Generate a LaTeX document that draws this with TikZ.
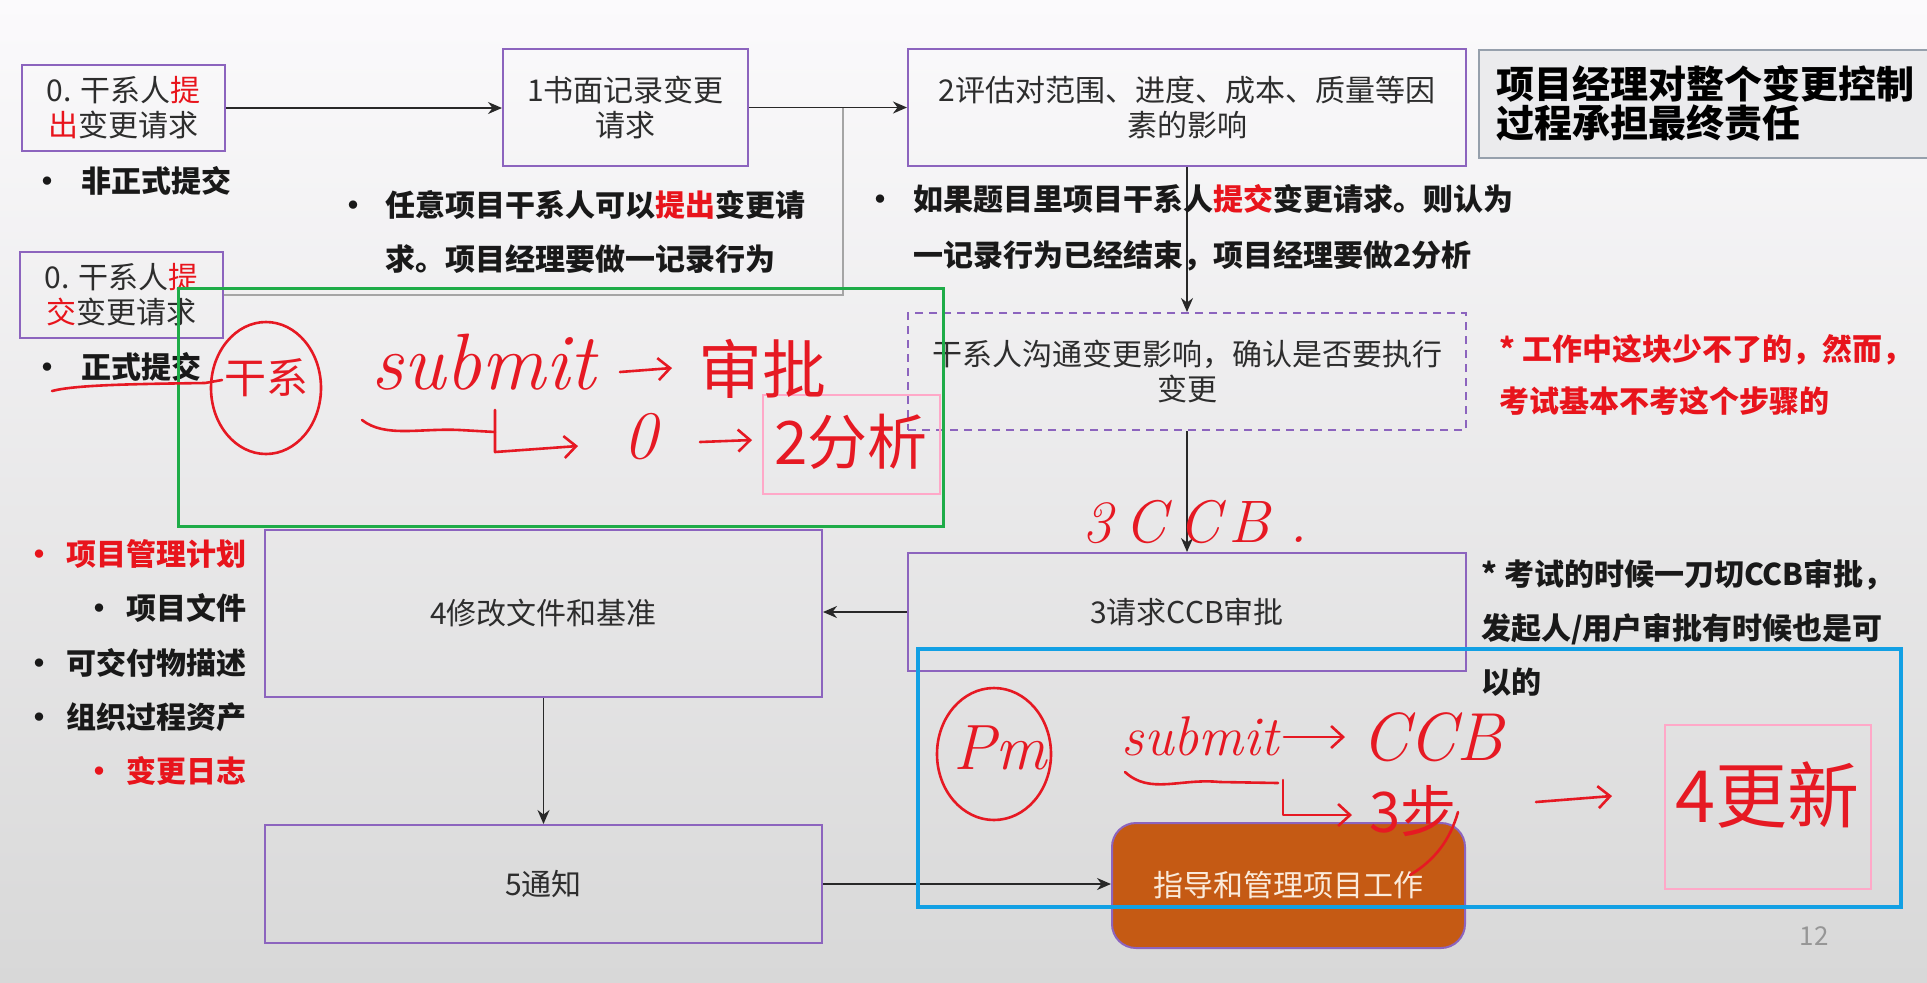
\documentclass[tikz,border=0pt]{standalone}
\usepackage{fontspec}
\usepackage{graphicx}
\newfontfamily\cjk{Noto Sans CJK SC}
\usetikzlibrary{arrows.meta}

\definecolor{bgtop}{RGB}{251,250,252}
\definecolor{bgbot}{RGB}{216,216,216}
\definecolor{boxpurple}{RGB}{140,100,190}
\definecolor{boxtext}{RGB}{45,45,45}
\definecolor{hlred}{RGB}{232,20,28}
\definecolor{linegray}{RGB}{40,40,40}
\definecolor{jointgray}{RGB}{165,165,165}
\definecolor{orangefill}{RGB}{197,90,20}
\definecolor{orangetext}{RGB}{250,235,220}
\definecolor{titlefill}{RGB}{235,235,237}
\definecolor{titleborder}{RGB}{150,160,172}
\definecolor{greenbox}{RGB}{30,172,72}
\definecolor{bluebox}{RGB}{18,160,228}
\definecolor{pinkbox}{RGB}{255,168,200}
\definecolor{handred}{RGB}{230,25,35}
\definecolor{numgray}{RGB}{150,150,150}

% bullet set in a box of the given width; the dot sits 7.5pt from its left edge
\newcommand{\bul}[1]{\makebox[#1][l]{•}}

\begin{document}
\begin{tikzpicture}[x=0.5pt,y=-0.5pt,
  flowbox/.style={draw=boxpurple, line width=1pt, rectangle, inner sep=0pt,
    align=center, text=boxtext, font=\cjk\fontsize{15}{17.5}\selectfont},
  flowarr/.style={draw=linegray, line width=0.8pt, -{Stealth[length=7pt,width=6pt]}},
  notetxt/.style={inner sep=0pt, align=left, text=black!90,
    font=\cjk\bfseries\fontsize{15}{27}\selectfont},
  annot/.style={line width=1.5pt},
  handline/.style={draw=handred, line width=1.3pt, line cap=round, line join=round},
  handarrow/.style={handline, -{Straight Barb[length=6pt,width=11pt]}},
  handtext/.style={text=handred, inner sep=0pt}]

\useasboundingbox (0,0) rectangle (1927,982);
\shade[top color=bgtop, bottom color=bgbot] (0,0) rectangle (1927,982);

% ---- process boxes ----
\node[flowbox, minimum width=101.5pt, minimum height=43pt] (b0a) at (123.5,108)
  {0. 干系人\textcolor{hlred}{提}\\\textcolor{hlred}{出}变更请求};
\node[flowbox, minimum width=101.5pt, minimum height=43pt] (b0b) at (121.5,295)
  {0. 干系人\textcolor{hlred}{提}\\\textcolor{hlred}{交}变更请求};
\node[flowbox, minimum width=122.5pt, minimum height=58.5pt] (b1) at (625.5,107.5)
  {1书面记录变更\\请求};
\node[flowbox, minimum width=279pt, minimum height=58.5pt] (b2) at (1187,107.5)
  {2评估对范围、进度、成本、质量等因\\素的影响};
\node[flowbox, dashed, dash pattern=on 4pt off 3pt, minimum width=279pt, minimum height=58.5pt] (b2x) at (1187,371.5)
  {干系人沟通变更影响，确认是否要执行\\变更};
\node[flowbox, minimum width=279pt, minimum height=59pt] (b3) at (1187,612)
  {3请求CCB审批};
\node[flowbox, minimum width=278.5pt, minimum height=83.5pt] (b4) at (543.5,613.5)
  {4修改文件和基准};
\node[flowbox, minimum width=278.5pt, minimum height=59pt] (b5) at (543.5,884)
  {5通知};
\node[flowbox, rounded corners=12pt, fill=orangefill, text=orangetext,
  minimum width=176.5pt, minimum height=62.5pt] (b6) at (1288.5,885.5)
  {指导和管理项目工作};

% ---- title box ----
\node[draw=titleborder, fill=titlefill, line width=0.8pt, anchor=north west,
  minimum width=240pt, minimum height=54pt, text width=222pt, inner xsep=9pt,
  align=left, font=\cjk\bfseries\fontsize{19}{19.5}\selectfont] (ttl) at (1478,49)
  {项目经理对整个变更控制\\过程承担最终责任};

% ---- connectors ----
\coordinate (jn) at (843,107.5);
\draw[draw=jointgray, line width=1.2pt] (b0b.east) -| (jn);
\draw[flowarr] (b0a.east) -- (b0a.east -| b1.west);
\draw[flowarr] (b1.east) -- (b2.west);
\draw[flowarr] (b2.south) -- (b2x.north);
\draw[flowarr] (b2x.south) -- (b3.north);
\draw[flowarr] (b3.west) -- (b3.west -| b4.east);
\draw[flowarr] (b4.south) -- (b5.north);
\draw[flowarr] (b5.east) -- (b5.east -| b6.west);

% ---- notes ----
\node[notetxt, anchor=west] (n0a) at (32,181) {\bul{24.5pt}非正式提交};
\node[notetxt, anchor=west] (n0b) at (32,367) {\bul{24.5pt}正式提交};
\node[notetxt, anchor=west] (n1) at (385,232)
  {\llap{\bul{23.5pt}}任意项目干系人可以\textcolor{hlred}{提出}变更请\\求。项目经理要做一记录行为};
\node[notetxt, anchor=west, font=\cjk\bfseries\fontsize{15}{28}\selectfont] (n2) at (913,228)
  {\llap{\bul{24pt}}如果题目里项目干系人\textcolor{hlred}{提交}变更请求。则认为\\一记录行为已经结束，项目经理要做2分析};
\node[notetxt, anchor=west, text=hlred, font=\cjk\bfseries\fontsize{15}{26}\selectfont] (n3) at (1499,375)
  {* 工作中这块少不了的，然而，\\考试基本不考这个步骤的};
\node[notetxt, anchor=west] (n4) at (1481,627.5)
  {* 考试的时候一刀切CCB审批，\\发起人/用户审批有时候也是可\\以的};
\node[notetxt, anchor=east, align=right, font=\cjk\bfseries\fontsize{15}{27.1}\selectfont] (n5) at (247,662.5)
  {\textcolor{hlred}{\bul{21pt}项目管理计划}\\
   \bul{21pt}项目文件\\
   \bul{21pt}可交付物描述\\
   \bul{21pt}组织过程资产\\
   \textcolor{hlred}{\bul{21pt}变更日志}};
\node[text=numgray, inner sep=0pt, font=\cjk\fontsize{13}{13}\selectfont] (pg) at (1814,936) {12};

% ---- marker boxes ----
\draw[annot, draw=greenbox] (178,288) rectangle (943,526);
\draw[annot, draw=pinkbox, line width=1pt] (763,395) rectangle (940,494);
\draw[annot, draw=bluebox, line width=1.7pt] (918,649) rectangle (1901,907);
\draw[annot, draw=pinkbox, line width=1pt] (1665,725) rectangle (1871,889);

% ---- handwriting, upper group ----
\draw[handline] (52,391) .. controls (75,385) and (130,384) .. (205,383) -- (222,380);
\draw[handline] (266,388) ellipse [x radius=27.5pt, y radius=33pt];
\node[handtext, font=\cjk\fontsize{21}{21}\selectfont] (h1) at (266,378) {干系};
\node[handtext, font=\itshape\fontsize{40}{40}\selectfont] (h2) at (483,362) {submit};
\draw[handarrow] (620,372) -- (672,368);
\node[handtext, font=\cjk\fontsize{32}{32}\selectfont] (h3) at (762,369) {审批};
\draw[handline] (362,420) .. controls (385,438) and (420,428) .. (460,430) -- (495,432);
\draw[handarrow] (495,410) -- (495,452) -- (578,446);
\node[handtext, font=\itshape\fontsize{34}{34}\selectfont] (h4) at (640,437) {0};
\draw[handarrow] (700,442) -- (752,440);
\node[handtext, font=\cjk\fontsize{30}{30}\selectfont] (h5) at (851,442) {2分析};
\node[handtext, font=\itshape\fontsize{30}{30}\selectfont] (h6) at (1195,522)
  {3\hspace{6pt}C\hspace{6pt}C\hspace{4pt}B\hspace{10pt}.};

% ---- handwriting, lower group ----
\draw[handline] (994,754) ellipse [x radius=28.5pt, y radius=33pt];
\node[handtext, font=\itshape\fontsize{32}{32}\selectfont] (h7) at (1000,748) {Pm};
\node[handtext, font=\itshape\fontsize{28}{28}\selectfont] (h8) at (1200,736) {submit};
\draw[handarrow] (1284,737) -- (1345,737);
\node[handtext, font=\itshape\fontsize{34}{34}\selectfont] (h9) at (1432,737) {CCB};
\draw[handline] (1125,772) .. controls (1150,795) and (1180,778) .. (1220,782) -- (1278,783);
\draw[handarrow] (1283,780) -- (1283,815) -- (1352,815);
\node[handtext, font=\cjk\fontsize{28}{28}\selectfont] (h10) at (1413,811) {3步};
\draw[handarrow] (1536,802) -- (1612,796);
\node[handtext, font=\cjk\fontsize{36}{36}\selectfont] (h11) at (1767,795) {4更新};
\draw[handline] (1458,812) .. controls (1450,840) and (1435,860) .. (1410,875);

\end{tikzpicture}
\end{document}
